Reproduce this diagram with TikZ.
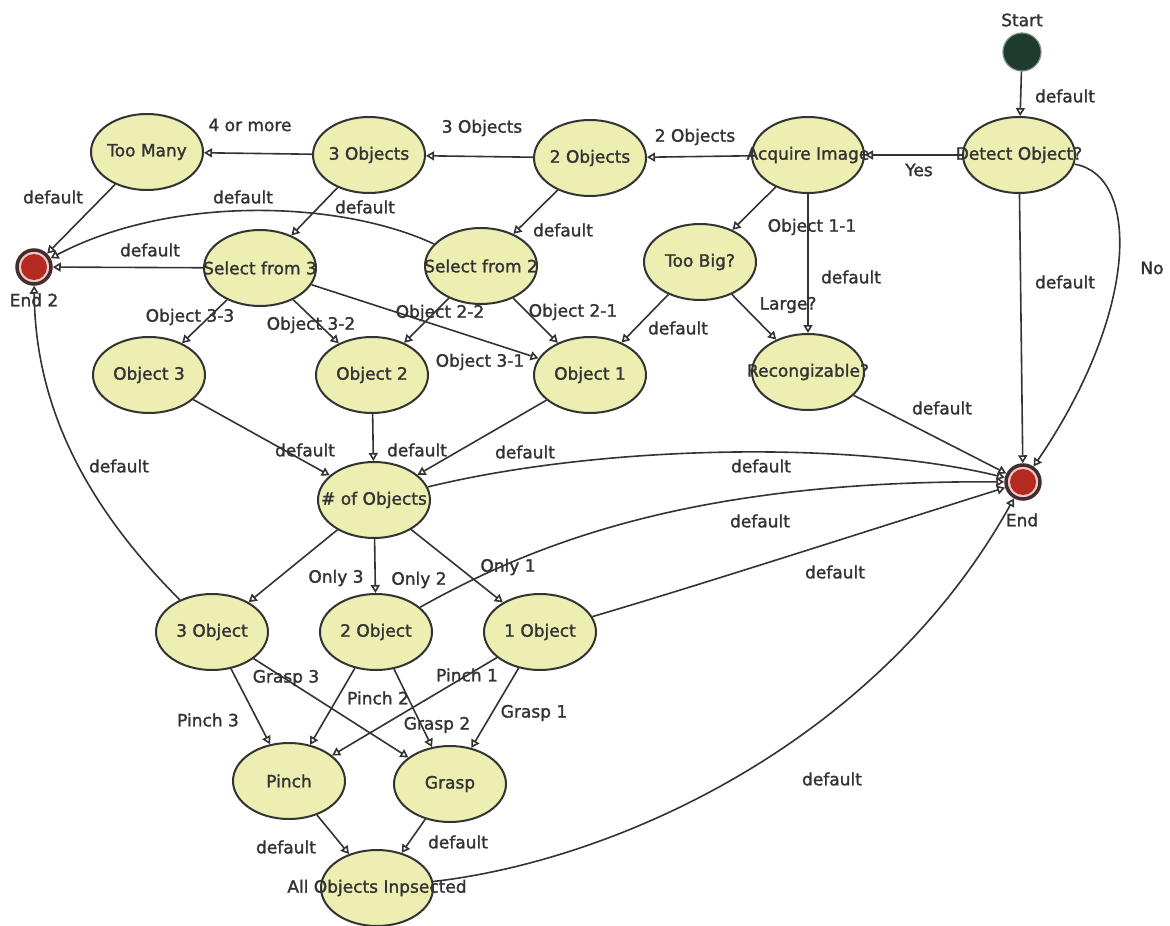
\documentclass[tikz,border=0pt]{standalone}
\usepackage{fontspec}
\setmainfont{DejaVu Sans}[FakeBold=1.5]
\usetikzlibrary{shapes.geometric,arrows.meta}
\definecolor{stfill}{RGB}{236,238,178}
\definecolor{ink}{RGB}{51,51,51}
\definecolor{startg}{RGB}{30,60,45}
\definecolor{endred}{RGB}{180,42,32}
\definecolor{endpink}{RGB}{236,200,200}
\definecolor{enddark}{RGB}{70,45,45}
\newcommand\ctext[1]{\makebox[0pt]{#1}}
\begin{document}
\begin{tikzpicture}[x=1pt,y=-1pt,
  font=\fontsize{17}{20}\selectfont, text=ink,
  st/.style={ellipse, draw=ink, line width=2pt, fill=stfill, minimum width=112pt, minimum height=76pt, inner sep=0pt},
  lbl/.style={inner sep=0pt, text=ink},
  arr/.style={draw=ink, line width=1.6pt, -{Triangle[open,length=8pt,width=9pt]}},
  startst/.style={circle, fill=startg, draw=startg!60!white, line width=1.2pt, minimum size=38pt, inner sep=0pt},
  endst/.style={circle, fill=endpink, draw=enddark, line width=3.5pt, minimum size=34pt, inner sep=0pt}]
\fill[white] (0,0) rectangle (1170,926);
\useasboundingbox (0,0) rectangle (1170,926);

% ---- states ----
\node[startst] (start) at (1022,52) {};
\node[st] (detect) at (1019,155) {\ctext{Detect Object?}};
\node[st] (acquire) at (808,155) {\ctext{Acquire Image}};
\node[st] (twoobj) at (590,158) {\ctext{2 Objects}};
\node[st] (threeobj) at (369,155) {\ctext{3 Objects}};
\node[st] (toomany) at (147,152) {\ctext{Too Many}};
\node[endst] (end2) at (34,267) {};
\fill[endred] (end2) circle[radius=13pt];
\node[st] (sel3) at (260,268) {\ctext{Select from 3}};
\node[st] (sel2) at (481,266) {\ctext{Select from 2}};
\node[st] (toobig) at (700,262) {\ctext{Too Big?}};
\node[st] (obj3) at (149,375) {\ctext{Object 3}};
\node[st] (obj2) at (372,375) {\ctext{Object 2}};
\node[st] (obj1) at (590,375) {\ctext{Object 1}};
\node[st] (recog) at (808,372) {\ctext{Recongizable?}};
\node[endst] (end) at (1023,482) {};
\fill[endred] (end) circle[radius=13pt];
\node[st] (numobj) at (374,500) {\ctext{\# of Objects}};
\node[st] (obj3b) at (212,632) {\ctext{3 Object}};
\node[st] (obj2b) at (376,632) {\ctext{2 Object}};
\node[st] (obj1b) at (540,632) {\ctext{1 Object}};
\node[st] (pinch) at (289,781) {\ctext{Pinch}};
\node[st] (grasp) at (450,784) {\ctext{Grasp}};
\node[st] (allobj) at (377,888) {\ctext{All Objects Inpsected}};

% ---- node captions ----
\node[lbl] (lstart) at (1022,20) {Start};
\node[lbl] (lend2) at (34,300) {End 2};
\node[lbl] (lend) at (1022,520) {End};

% ---- transitions ----
\draw[arr] (start) -- (detect);
\draw[arr] (detect) -- (acquire);
\draw[arr] (detect) -- (end);
\draw[arr] (detect) .. controls (1140,175) and (1140,310) .. (end);
\draw[arr] (acquire) -- (twoobj);
\draw[arr] (twoobj) -- (threeobj);
\draw[arr] (threeobj) -- (toomany);
\draw[arr] (toomany) -- (end2);
\draw[arr] (threeobj) -- (sel3);
\draw[arr] (sel3) -- (end2);
\draw[arr] (sel2) .. controls (340,200) and (170,195) .. (end2);
\draw[arr] (twoobj) -- (sel2);
\draw[arr] (acquire) -- (toobig);
\draw[arr] (acquire) -- (recog);
\draw[arr] (toobig) -- (recog);
\draw[arr] (toobig) -- (obj1);
\draw[arr] (recog) -- (end);
\draw[arr] (sel3) -- (obj3);
\draw[arr] (sel3) -- (obj2);
\draw[arr] (sel3) -- (obj1);
\draw[arr] (sel2) -- (obj2);
\draw[arr] (sel2) -- (obj1);
\draw[arr] (obj3) -- (numobj);
\draw[arr] (obj2) -- (numobj);
\draw[arr] (obj1) -- (numobj);
\draw[arr] (numobj) .. controls (600,445) and (850,440) .. (end);
\draw[arr] (numobj) -- (obj3b);
\draw[arr] (numobj) -- (obj2b);
\draw[arr] (numobj) -- (obj1b);
\draw[arr] (obj2b) .. controls (540,540) and (700,480) .. (end);
\draw[arr] (obj1b) .. controls (700,585) and (870,530) .. (end);
\draw[arr] (obj3b) .. controls (80,500) and (35,400) .. (end2);
\draw[arr] (obj3b) -- (pinch);
\draw[arr] (obj3b) -- (grasp);
\draw[arr] (obj2b) -- (pinch);
\draw[arr] (obj2b) -- (grasp);
\draw[arr] (obj1b) -- (pinch);
\draw[arr] (obj1b) -- (grasp);
\draw[arr] (pinch) -- (allobj);
\draw[arr] (grasp) -- (allobj);
\draw[arr] (allobj) .. controls (620,860) and (880,740) .. (end);

% ---- transition labels ----
\node[lbl] at (1065,96) {default};
\node[lbl] at (919,170) {Yes};
\node[lbl] at (1065,282) {default};
\node[lbl] at (1152,268) {No};
\node[lbl] at (695,137) {2 Objects};
\node[lbl] at (482,128) {3 Objects};
\node[lbl] at (250,125) {4 or more};
\node[lbl] at (53,197) {default};
\node[lbl] at (243,197) {default};
\node[lbl] at (365,207) {default};
\node[lbl] at (150,250) {default};
\node[lbl] at (563,230) {default};
\node[lbl] at (812,227) {Object 1-1};
\node[lbl] at (851,277) {default};
\node[lbl] at (788,305) {Large?};
\node[lbl] at (678,328) {default};
\node[lbl] at (942,408) {default};
\node[lbl] at (190,317) {Object 3-3};
\node[lbl] at (311,325) {Object 3-2};
\node[lbl] at (440,313) {Object 2-2};
\node[lbl] at (573,312) {Object 2-1};
\node[lbl] at (480,362) {Object 3-1};
\node[lbl] at (305,450) {default};
\node[lbl] at (417,450) {default};
\node[lbl] at (525,452) {default};
\node[lbl] at (761,466) {default};
\node[lbl] at (760,521) {default};
\node[lbl] at (835,572) {default};
\node[lbl] at (119,466) {default};
\node[lbl] at (336,578) {Only 3};
\node[lbl] at (419,580) {Only 2};
\node[lbl] at (508,567) {Only 1};
\node[lbl] at (208,720) {Pinch 3};
\node[lbl] at (286,678) {Grasp 3};
\node[lbl] at (378,698) {Pinch 2};
\node[lbl] at (437,725) {Grasp 2};
\node[lbl] at (467,675) {Pinch 1};
\node[lbl] at (534,713) {Grasp 1};
\node[lbl] at (286,847) {default};
\node[lbl] at (458,842) {default};
\node[lbl] at (832,779) {default};
\end{tikzpicture}
\end{document}
